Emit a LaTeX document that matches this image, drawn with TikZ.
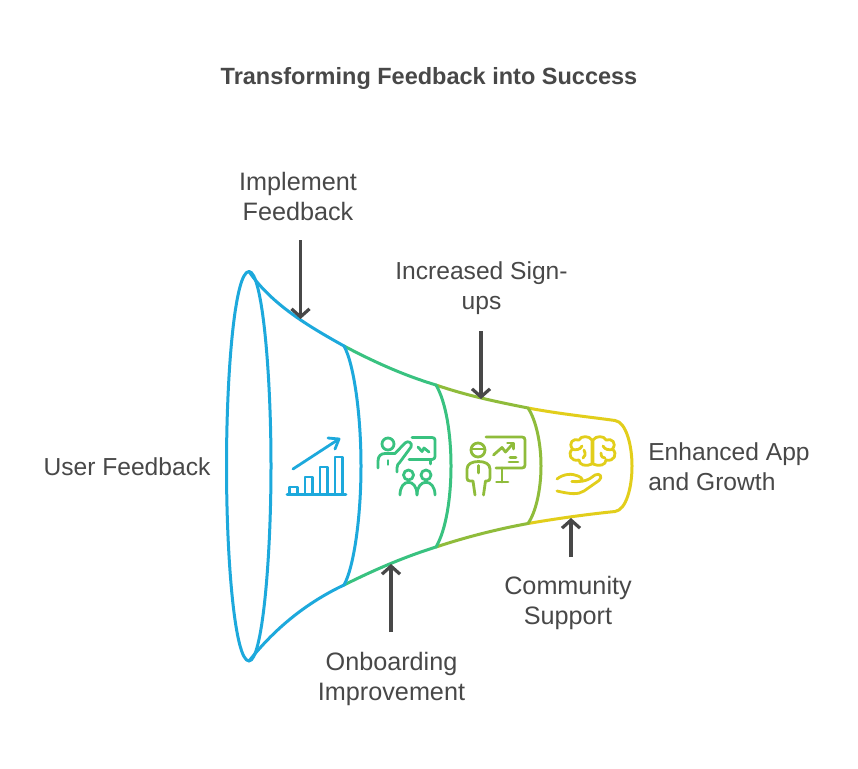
\documentclass[tikz,border=0pt]{standalone}
\usepackage{fontspec}
\setmainfont{Liberation Sans}
\usetikzlibrary{arrows.meta}
\definecolor{cblue}{HTML}{1DA9DC}
\definecolor{cgreen}{HTML}{39C280}
\definecolor{colive}{HTML}{8FBC3B}
\definecolor{cyellow}{HTML}{E2CE1B}
\definecolor{ctext}{HTML}{484848}
\tikzset{
  lbl/.style={text=ctext,align=center,font=\fontsize{24.6}{30}\selectfont,inner sep=0pt},
  lblw/.style={lbl,font=\fontsize{25.2}{30}\selectfont},
  ttl/.style={text=ctext,align=center,font=\fontsize{23.5}{30}\selectfont\bfseries,inner sep=0pt},
  conn/.style={draw=ctext,line width=3.2pt,-{Straight Barb[length=8pt,width=18pt]}},
  fun/.style={line width=3pt,line cap=round,line join=round},
  ico/.style={line width=2.8pt,line cap=round,line join=round},
}
\begin{document}
\begin{tikzpicture}[x=1pt,y=-1pt]
\useasboundingbox (0,0) rectangle (858,768);
\fill[white] (0,0) rectangle (858,768);
% yellow
\draw[fun,cyellow] (528,408) .. controls (560,414) and (590,417) .. (615,420.5)
  .. controls (626,422) and (632,445) .. (632,466)
  .. controls (632,488) and (626,510) .. (615,511.5)
  .. controls (590,514) and (560,518) .. (528,523.5);
% olive
\draw[fun,colive] (436,385) .. controls (468,396) and (498,402) .. (528,408)
  .. controls (536,420) and (541,443) .. (541,466)
  .. controls (541,489) and (536,512) .. (528,523.5)
  .. controls (498,529) and (466,537) .. (436,547);
% green
\draw[fun,cgreen] (344,346) .. controls (376,363) and (406,376) .. (436,385)
  .. controls (446,402) and (451,434) .. (451,466)
  .. controls (451,498) and (446,530) .. (436,547)
  .. controls (404,557) and (374,570) .. (344,585);
% blue
\draw[fun,cblue] (249,271.5) .. controls (235,271.5) and (226.5,370) .. (226.5,466)
  .. controls (226.5,562) and (235,661) .. (249,661)
  .. controls (262,661) and (271,562) .. (271,466)
  .. controls (271,370) and (262,271.5) .. cycle;
\draw[fun,cblue] (249,271.5) .. controls (272,305) and (310,327) .. (344,346)
  .. controls (354,364) and (361,415) .. (361,466)
  .. controls (361,517) and (354,567) .. (344,585)
  .. controls (308,602) and (276,627) .. (249,661);
% chart icon
\begin{scope}[ico,cblue]
\draw (287,494.5) -- (346,494.5);
\draw (289.5,494) -- (289.5,487) -- (297.5,487) -- (297.5,494);
\draw (305,494) -- (305,477) -- (312.5,477) -- (312.5,494);
\draw (320,494) -- (320,467) -- (327.5,467) -- (327.5,494);
\draw (335,494) -- (335,457) -- (342.5,457) -- (342.5,494);
\draw (293,469) -- (339,439);
\draw (328,438) -- (339,439) -- (335,449);
\end{scope}
% presenter icon
\begin{scope}[ico,cgreen]
\draw (388,444) circle[radius=6];
\draw (378,468) -- (378,461) .. controls (378,456) and (381,453.5) .. (385,453.5) -- (395,453.5)
  -- (405,443) .. controls (408,440) and (413,443) .. (411,447)
  -- (400,462) .. controls (398,464) and (397,465) .. (397,468) -- (397,472);
\draw (388,460.5) -- (388,464.5);
\draw (412,437.5) -- (432,437.5) .. controls (434,437.5) and (435,438.5) .. (435,440)
  -- (435,456.5) .. controls (435,458) and (434,459.5) .. (432,459.5) -- (409,459.5);
\draw (430.5,459.5) -- (430.5,464);
\draw (418,447) -- (422,451.5) -- (424,448) -- (429,452);
\draw (408.5,475) circle[radius=5];
\draw (426,475) circle[radius=5];
\draw (400,495) .. controls (400,478) and (417,478) .. (417,495);
\draw (417,495) .. controls (417,478) and (435,478) .. (435,495);
\end{scope}
% teacher icon
\begin{scope}[ico,colive]
\draw (478,450) circle[radius=7];
\draw (471.5,449) -- (484.5,449);
\draw (475,495) -- (473,481) -- (470,481) .. controls (468,481) and (467,480) .. (467,478)
  -- (467,469) .. controls (467,464) and (472,461.5) .. (478.5,461.5)
  .. controls (485,461.5) and (490,464) .. (490,469) -- (490,478)
  .. controls (490,480) and (489,481) .. (487,481) -- (485.5,481) -- (483.5,495);
\draw (478.5,465.5) -- (478.5,473);
\draw (486,437) -- (522,437) .. controls (524,437) and (525,438) .. (525,440)
  -- (525,465) .. controls (525,467) and (524,468) .. (522,468) -- (496,468);
\draw (502,468) -- (502,482);
\draw (496.5,482) -- (508,482);
\draw (493.5,455) -- (502,447.5) -- (505.5,452) -- (513,443.5);
\draw (507.5,443) -- (513.5,443) -- (513.5,449);
\draw (510,457.5) -- (516,457.5);
\draw (509,462) -- (518,462);
\end{scope}
% brain and hand icon
\begin{scope}[ico,cyellow]
\draw (592,464) .. controls (586,467) and (579,465) .. (579,460)
  .. controls (571,462) and (567,454) .. (572.5,449)
  .. controls (568,443) and (573,438) .. (579,440)
  .. controls (581,435.5) and (589,435.5) .. (592,440) -- cycle;
\draw (593,464) .. controls (599,467) and (606,465) .. (606,460)
  .. controls (614,462) and (618,454) .. (612.5,449)
  .. controls (617,443) and (612,438) .. (606,440)
  .. controls (604,435.5) and (596,435.5) .. (593,440) -- cycle;
\draw (572.5,449.5) .. controls (576,450) and (580,450) .. (582,446);
\draw (584,450) .. controls (586,454) and (585,457) .. (583,458);
\draw (612.5,449.5) .. controls (609,450) and (605,450) .. (603,446);
\draw (601,453) .. controls (601,457) and (603,458) .. (605,458);
\draw (557,479) .. controls (563,474) and (572,473) .. (578,476)
  .. controls (583,478) and (584,481) .. (578,481.5) -- (572,481.5);
\draw (572,481.5) .. controls (580,482) and (586,481) .. (590,478.5) -- (595,475)
  .. controls (600,472.5) and (603,477) .. (599,480.5)
  -- (584,491) .. controls (578,495) and (570,494) .. (557,491);
\end{scope}
% labels
\node[ttl] (title) at (429,78.5) {Transforming Feedback into Success};
\node[lblw] (implement) at (298,196.5) {Implement\\Feedback};
\node[lbl] (signups) at (481.5,288) {Increased Sign-\\ups};
\node[lbl] (user) at (127,466.5) {User Feedback};
\node[lbl,align=left] (growth) at (729,467) {Enhanced App\\and Growth};
\node[lblw] (community) at (568,603) {Community\\Support};
\node[lblw] (onboard) at (391.5,678.5) {Onboarding\\Improvement};
% connectors
\coordinate (implementA) at (300.5,240);
\coordinate (implementB) at (300.5,319);
\coordinate (signupsA) at (481,331);
\coordinate (signupsB) at (481,399);
\coordinate (communityA) at (571,557);
\coordinate (communityB) at (571,518);
\coordinate (onboardA) at (391,632);
\coordinate (onboardB) at (391,564);
\draw[conn] (implementA) -- (implementB);
\draw[conn] (signupsA) -- (signupsB);
\draw[conn] (communityA) -- (communityB);
\draw[conn] (onboardA) -- (onboardB);
\end{tikzpicture}
\end{document}
